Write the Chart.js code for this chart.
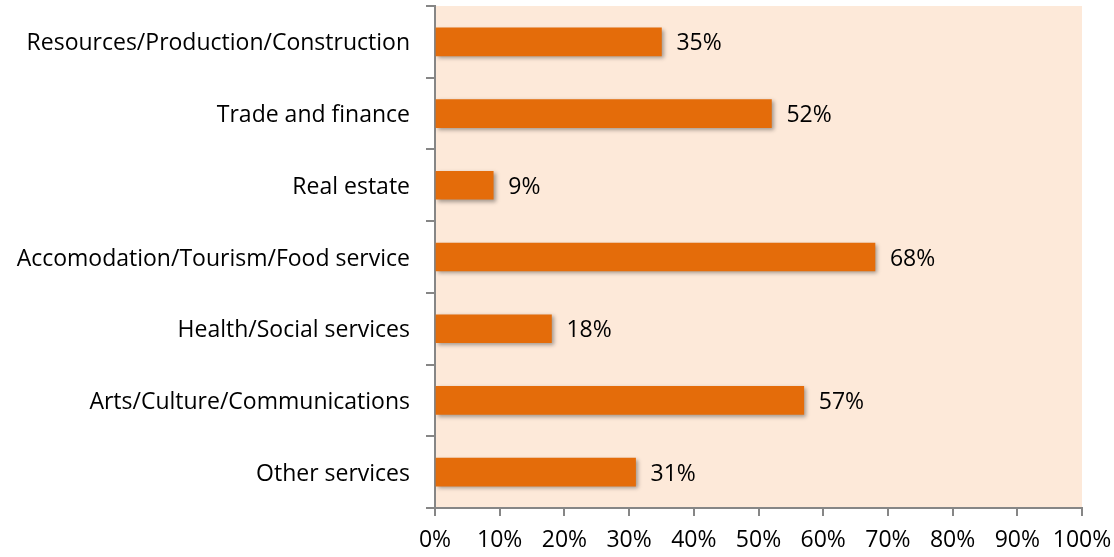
<!DOCTYPE html>
<html>
<head>
<meta charset="utf-8">
<script src="https://cdn.jsdelivr.net/npm/chart.js@4"></script>
<style>
  html, body { margin: 0; padding: 0; background: #fff; }
  #wrap { width: 1114px; height: 557px; }
</style>
</head>
<body>
<div id="wrap"><canvas id="chart" width="1114" height="557"></canvas></div>
<script>
/* ---------- data ---------- */
const categories = [
  'Resources/Production/Construction',
  'Trade and finance',
  'Real estate',
  'Accomodation/Tourism/Food service',
  'Health/Social services',
  'Arts/Culture/Communications',
  'Other services',
];
const shares = [35, 52, 9, 68, 18, 57, 31];
const xTicks = [0, 10, 20, 30, 40, 50, 60, 70, 80, 90, 100];

/* ---------- colors ---------- */
const BAR_COLOR  = '#E46C0A';
const PLOT_BG    = '#FDE9D9';
const AXIS_COLOR = '#868686';
const FONT       = '"Open Sans", Lato, sans-serif';
const FONT_SIZE  = 23;

/* plot background */
const plotBg = {
  id: 'plotBg',
  beforeDraw(chart) {
    const { ctx, chartArea: a } = chart;
    ctx.save();
    ctx.fillStyle = PLOT_BG;
    ctx.fillRect(a.left, a.top, a.right - a.left, a.bottom - a.top);
    ctx.restore();
  },
};

/* soft shadow under bars */
const barShadow = {
  id: 'barShadow',
  beforeDatasetsDraw(chart) {
    const ctx = chart.ctx;
    ctx.save();
    ctx.shadowColor = 'rgba(0,0,0,0.35)';
    ctx.shadowBlur = 4;
    ctx.shadowOffsetX = 2;
    ctx.shadowOffsetY = 2;
  },
  afterDatasetsDraw(chart) {
    chart.ctx.restore();
  },
};

/* value labels to the right of the bars */
const valueLabels = {
  id: 'valueLabels',
  afterDatasetsDraw(chart) {
    const ctx = chart.ctx;
    const meta = chart.getDatasetMeta(0);
    ctx.save();
    ctx.fillStyle = '#000';
    ctx.font = FONT_SIZE + 'px ' + FONT;
    ctx.textAlign = 'left';
    ctx.textBaseline = 'middle';
    meta.data.forEach((bar, i) => {
      ctx.fillText(shares[i] + '%', bar.x + 15, bar.y + 2);
    });
    ctx.restore();
  },
};

new Chart(document.getElementById('chart').getContext('2d'), {
  type: 'bar',
  data: {
    labels: categories,
    datasets: [{
      data: shares,
      backgroundColor: BAR_COLOR,
      borderWidth: 0,
      barThickness: 28,
    }],
  },
  options: {
    indexAxis: 'y',
    responsive: false,
    animation: false,
    layout: { padding: { top: 6, right: 32, left: 0, bottom: 0 } },
    plugins: {
      legend:  { display: false },
      tooltip: { enabled: false },
    },
    scales: {
      x: {
        min: 0,
        max: 100,
        afterBuildTicks: s => { s.ticks = xTicks.map(v => ({ value: v })); },
        afterFit: s => {
          s.height = 49;
          s.paddingLeft = 0;
          s.paddingRight = 0;
        },
        ticks: {
          color: '#000',
          font: { family: FONT, size: FONT_SIZE },
          padding: 11,
          maxRotation: 0,
          autoSkip: false,
          callback: v => v + '%',
        },
        grid: {
          drawOnChartArea: false,
          drawTicks: true,
          tickLength: 8,
          color: AXIS_COLOR,
          lineWidth: 2,
        },
        border: { color: AXIS_COLOR, width: 2 },
      },
      y: {
        afterFit: s => {
          s.width = 435;
          s.paddingTop = 0;
          s.paddingBottom = 0;
        },
        ticks: {
          color: '#000',
          font: { family: FONT, size: FONT_SIZE },
          padding: 16,
          labelOffset: 2,
        },
        grid: {
          offset: true,
          drawOnChartArea: false,
          drawTicks: true,
          tickLength: 9,
          color: AXIS_COLOR,
          lineWidth: 2,
        },
        border: { color: AXIS_COLOR, width: 2 },
      },
    },
  },
  plugins: [plotBg, barShadow, valueLabels],
});
</script>
</body>
</html>
